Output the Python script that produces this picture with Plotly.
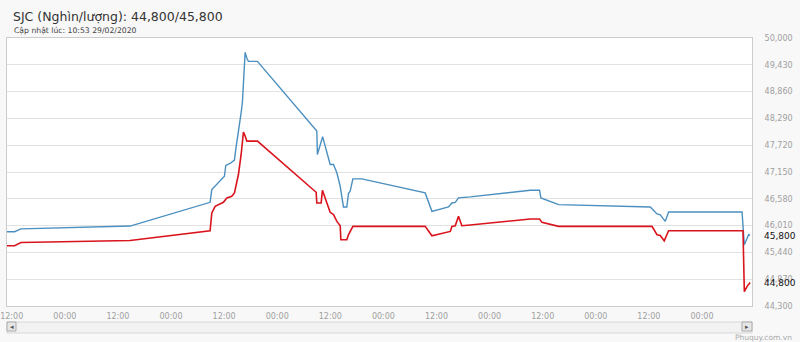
import plotly.graph_objects as go

# ---------------- data ----------------
sell_times = [
    "2020-02-22 10:56", "2020-02-22 12:39", "2020-02-22 14:06", "2020-02-23 14:45",
    "2020-02-24 08:50", "2020-02-24 09:13", "2020-02-24 12:04", "2020-02-24 12:23",
    "2020-02-24 13:21", "2020-02-24 14:20", "2020-02-24 14:38", "2020-02-24 15:06",
    "2020-02-24 15:28", "2020-02-24 15:51", "2020-02-24 16:08", "2020-02-24 16:22",
    "2020-02-24 16:45", "2020-02-24 17:12", "2020-02-24 17:30", "2020-02-24 19:32",
    "2020-02-25 08:57", "2020-02-25 09:05", "2020-02-25 10:16", "2020-02-25 11:58",
    "2020-02-25 12:43", "2020-02-25 13:29", "2020-02-25 14:14", "2020-02-25 14:58",
    "2020-02-25 15:44", "2020-02-25 16:06", "2020-02-25 16:29", "2020-02-25 17:06",
    "2020-02-25 19:08", "2020-02-26 09:26", "2020-02-26 10:11", "2020-02-26 10:58",
    "2020-02-26 14:43", "2020-02-26 15:29", "2020-02-26 16:14", "2020-02-26 16:58",
    "2020-02-26 19:37", "2020-02-27 09:11", "2020-02-27 11:17", "2020-02-27 11:36",
    "2020-02-27 15:35", "2020-02-28 12:19", "2020-02-28 13:50", "2020-02-28 14:34",
    "2020-02-28 15:42", "2020-02-28 16:27", "2020-02-29 09:03", "2020-02-29 09:34",
    "2020-02-29 10:32", "2020-02-29 10:53",
]
sell_values = [
    45880, 45880, 45940, 46000,
    46505, 46776, 47060, 47289,
    47331, 47402, 47630, 47914,
    48093, 48413, 48627, 49125,
    49694, 49552, 49502, 49502,
    48021, 47523, 47901, 47310,
    47310, 47133, 46847, 46406,
    46406, 46691, 46740, 47004,
    47004, 46705, 46527, 46313,
    46406, 46492, 46505, 46599,
    46620, 46762, 46762, 46599,
    46456, 46406, 46257, 46240,
    46100, 46300, 46300, 45602,
    45815, 45800,
]

buy_times = [
    "2020-02-22 10:56", "2020-02-22 12:39", "2020-02-22 14:06", "2020-02-23 14:45",
    "2020-02-24 08:50", "2020-02-24 09:13", "2020-02-24 09:58", "2020-02-24 11:50",
    "2020-02-24 12:37", "2020-02-24 13:44", "2020-02-24 14:20", "2020-02-24 15:14",
    "2020-02-24 15:51", "2020-02-24 16:22", "2020-02-24 16:45", "2020-02-24 17:08",
    "2020-02-24 19:32", "2020-02-25 08:48", "2020-02-25 08:57", "2020-02-25 09:56",
    "2020-02-25 10:13", "2020-02-25 11:58", "2020-02-25 12:43", "2020-02-25 13:29",
    "2020-02-25 14:14", "2020-02-25 14:23", "2020-02-25 15:44", "2020-02-25 16:06",
    "2020-02-25 17:06", "2020-02-26 09:26", "2020-02-26 10:58", "2020-02-26 15:07",
    "2020-02-26 15:29", "2020-02-26 16:14", "2020-02-26 16:58", "2020-02-26 17:44",
    "2020-02-26 19:37", "2020-02-27 09:11", "2020-02-27 11:17", "2020-02-27 11:50",
    "2020-02-27 15:35", "2020-02-28 12:42", "2020-02-28 13:50", "2020-02-28 14:34",
    "2020-02-28 15:28", "2020-02-28 16:27", "2020-02-29 09:16", "2020-02-29 09:34",
    "2020-02-29 10:09", "2020-02-29 10:53",
]
buy_values = [
    45581, 45581, 45650, 45694,
    45900, 46279, 46420, 46505,
    46599, 46633, 46705, 47096,
    47523, 48000, 47914, 47807,
    47807, 46719, 46492, 46492,
    46762, 46292, 46243, 46100,
    46008, 45709, 45709, 45815,
    45993, 45993, 45794, 45886,
    45993, 46008, 46206, 46008,
    46022, 46150, 46150, 46078,
    45993, 45993, 45815, 45800,
    45687, 45901, 45901, 44605,
    44712, 44800,
]

y_ticks = [44300, 44870, 45440, 46010, 46580, 47150, 47720, 48290, 48860, 49430, 50000]
x_range = ["2020-02-22 10:56", "2020-02-29 11:18"]

title_text = "SJC (Nghìn/lượng): 44,800/45,800"
subtitle_text = "Cập nhật lúc: 10:53 29/02/2020"
last_sell_label = "45,800"
last_buy_label = "44,800"
credit_text = "Phuquy.com.vn"

# ---------------- figure ----------------
W, H = 800, 342
ML, MR, MT, MB = 7, 48, 38, 36
PH = H - MT - MB


def py(pixel_y):
    """convert a page pixel row to plot-paper fraction"""
    return (H - MB - pixel_y) / PH


def px(pixel_x):
    return (pixel_x - ML) / (W - ML - MR)


fig = go.Figure()
fig.add_trace(go.Scatter(x=sell_times, y=sell_values, mode="lines",
                         line=dict(color="#4a8fbf", width=1.4), name="Bán"))
fig.add_trace(go.Scatter(x=buy_times, y=buy_values, mode="lines",
                         line=dict(color="#d9141c", width=1.6), name="Mua"))

shapes = [
    # scrollbar track
    dict(type="rect", xref="paper", yref="paper", x0=px(7), x1=px(752),
         y0=py(333), y1=py(322), line=dict(color="#d8d8d8", width=1), fillcolor="#f2f2f2",
         layer="below"),
    dict(type="rect", xref="paper", yref="paper", x0=px(7), x1=px(16),
         y0=py(331), y1=py(322), line=dict(color="#aaaaaa", width=1), fillcolor="#e6e6e6"),
    dict(type="rect", xref="paper", yref="paper", x0=px(742), x1=px(752),
         y0=py(331), y1=py(322), line=dict(color="#aaaaaa", width=1), fillcolor="#e6e6e6"),
]

annotations = [
    dict(text=title_text, xref="paper", yref="paper", x=px(11), y=py(16),
         xanchor="left", yanchor="middle", showarrow=False,
         font=dict(family="DejaVu Sans", size=12.5, color="#333333")),
    dict(text=subtitle_text, xref="paper", yref="paper", x=px(12), y=py(31),
         xanchor="left", yanchor="middle", showarrow=False,
         font=dict(family="DejaVu Sans", size=7.7, color="#444444")),
    dict(text=last_sell_label, xref="paper", yref="y", x=1, y=sell_values[-1],
         xanchor="left", yanchor="middle", xshift=10, yshift=-1, showarrow=False,
         font=dict(family="DejaVu Sans", size=9, color="#111111")),
    dict(text=last_buy_label, xref="paper", yref="y", x=1, y=buy_values[-1],
         xanchor="left", yanchor="middle", xshift=10, yshift=-1, showarrow=False,
         font=dict(family="DejaVu Sans", size=9, color="#111111")),
    dict(text=credit_text, xref="paper", yref="paper", x=px(794), y=py(337),
         xanchor="right", yanchor="middle", showarrow=False,
         font=dict(family="DejaVu Sans", size=7.5, color="#aaaaaa")),
    dict(text="◂", xref="paper", yref="paper", x=px(11.5), y=py(326.5),
         xanchor="center", yanchor="middle", showarrow=False,
         font=dict(size=7, color="#555555")),
    dict(text="▸", xref="paper", yref="paper", x=px(747), y=py(326.5),
         xanchor="center", yanchor="middle", showarrow=False,
         font=dict(size=7, color="#555555")),
]

fig.update_layout(
    width=W, height=H,
    margin=dict(l=ML, r=MR, t=MT, b=MB, pad=0),
    paper_bgcolor="#f8f8f8",
    plot_bgcolor="#ffffff",
    showlegend=False,
    shapes=shapes,
    annotations=annotations,
    xaxis=dict(
        type="date", range=x_range, automargin=False,
        tick0="2020-02-22 12:00", dtick=12 * 3600 * 1000,
        tickformat="%H:%M", showgrid=False,
        tickfont=dict(family="DejaVu Sans", size=8, color="#a0a0a0"),
        ticks="", ticklabelstandoff=2,
        showline=True, linecolor="#cccccc", mirror=True, linewidth=1,
        zeroline=False, fixedrange=True,
    ),
    yaxis=dict(
        side="right", range=[44300, 50000], tickvals=y_ticks, automargin=False,
        ticktext=[f"{v:,}" for v in y_ticks],
        showgrid=True, gridcolor="#e2e2e2", gridwidth=1,
        tickfont=dict(family="DejaVu Sans", size=8, color="#a0a0a0"),
        ticks="", ticklabelstandoff=10,
        showline=True, linecolor="#cccccc", mirror=True, linewidth=1,
        zeroline=False, fixedrange=True,
    ),
)

fig.write_html("out.html")
